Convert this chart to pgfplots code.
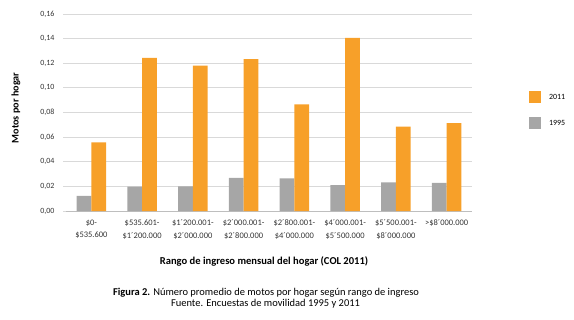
\documentclass[border=0pt]{standalone}
\usepackage{pgfplots}
\pgfplotsset{compat=1.18}
\usepackage{fontspec}
\setmainfont{Carlito}
\definecolor{orange11}{RGB}{247,160,41}
\definecolor{gray95}{RGB}{166,166,166}
\definecolor{gridgray}{RGB}{217,217,217}
\definecolor{axgray}{RGB}{190,190,190}
\begin{document}
\begin{tikzpicture}[x=1bp,y=1bp]
\useasboundingbox (0,0) rectangle (574,-319);
\begin{axis}[
  at={(66bp,-211bp)}, anchor=south west,
  scale only axis, width=406bp, height=197bp,
  ybar=0pt, bar width=0.29,
  xmin=-0.5, xmax=7.5, ymin=0, ymax=0.16,
  ytick={0,0.02,...,0.161},
  axis x line*=bottom, axis y line*=left,
  y axis line style={draw=none},
  x axis line style={draw=axgray},
  ymajorgrids, grid style={gridgray, line width=0.8bp},
  ytick style={draw=gridgray, line width=0.8bp},
  tick align=outside, major tick length=3bp,
  xtick={0,...,7},
  xtick style={draw=none},
  extra x ticks={-0.5,0.5,...,7.5},
  extra x tick labels={},
  extra x tick style={grid=none, major tick length=5bp, tick style={draw=axgray, line width=0.6bp}},
  xticklabels={{\$0-\\\$535.600},{\$535.601-\\\$1´200.000},{\$1´200.001-\\\$2´000.000},{\$2´000.001-\\\$2´800.000},{\$2´800.001-\\\$4´000.000},{\$4´000.001-\\\$5´500.000},{\$5´500.001-\\\$8´000.000},{>\$8´000.000\\\strut}},
  xticklabel style={align=center, font=\fontsize{8.5}{13}\selectfont, color=black!80, yshift=-2bp},
  yticklabel style={font=\fontsize{8}{9}\selectfont, color=black!80, xshift=-5bp,
    /pgf/number format/use comma, /pgf/number format/fixed, /pgf/number format/fixed zerofill, /pgf/number format/precision=2, /pgf/number format/assume math mode=true},
  reverse legend,
  legend style={at={(1.14,0.609)}, anchor=north west, draw=none, fill=none,
    font=\fontsize{8}{9}\selectfont, row sep=14bp, inner sep=0pt,
    /tikz/every odd column/.style={column sep=6bp}},
  legend cell align=left,
  legend image code/.code={\fill[#1, draw=none] (0bp,-6bp) rectangle (12bp,6bp);},
]
\addplot[fill=gray95, draw=none] coordinates {(0,0.0122) (1,0.0198) (2,0.0200) (3,0.0270) (4,0.0266) (5,0.0211) (6,0.0233) (7,0.0228)};
\addplot[fill=orange11, draw=none] coordinates {(0,0.0558) (1,0.1244) (2,0.1180) (3,0.1233) (4,0.0867) (5,0.1407) (6,0.0685) (7,0.0713)};
\legend{1995,2011}
\end{axis}
\node[rotate=90, font=\bfseries\fontsize{10.2}{12}\selectfont] at (16,-108) {Motos por hogar};
\node[font=\bfseries\fontsize{10.6}{12}\selectfont] at (264,-261) {Rango de ingreso mensual del hogar (COL 2011)};
\node[font=\fontsize{10.5}{12}\selectfont] at (266,-292.3) {\textbf{Figura 2.} Número promedio de motos por hogar según rango de ingreso};
\node[font=\fontsize{10.5}{12}\selectfont] at (265.5,-303.8) {Fuente. Encuestas de movilidad 1995 y 2011};
\end{tikzpicture}
\end{document}
